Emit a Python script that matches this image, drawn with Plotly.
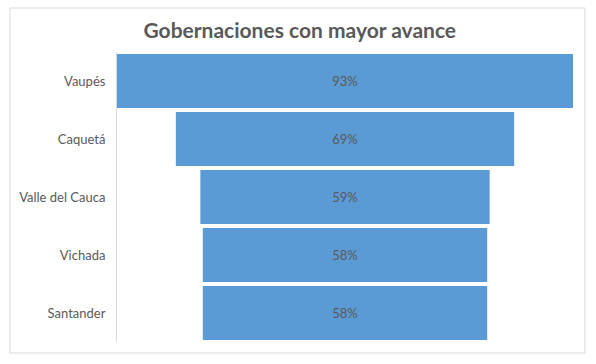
import plotly.graph_objects as go

categories = ["Vaupés", "Caquetá", "Valle del Cauca", "Vichada", "Santander"]
values = [93, 69, 59, 58, 58]
labels = ["93%", "69%", "59%", "58%", "58%"]

W, H = 596, 364
L, R, T, B = 117, 23, 52, 22
pw, ph = W - L - R, H - T - B

def px_to_paper_x(px):
    return (px - L) / pw

def py_to_paper_y(py):
    return (H - B - py) / ph

fig = go.Figure(go.Funnel(
    y=categories,
    x=values,
    text=labels,
    textinfo="text",
    textposition="inside",
    insidetextanchor="middle",
    textfont=dict(family="Lato", size=13, color="#595959"),
    marker=dict(color="#5B9BD5", line=dict(width=0)),
    connector=dict(visible=False),
    hoverinfo="y+x",
))

fig.update_layout(
    width=W, height=H,
    margin=dict(l=L, r=R, t=T, b=B),
    paper_bgcolor="white", plot_bgcolor="white",
    showlegend=False,
    funnelgap=0.07,
    title=dict(text="<b>Gobernaciones con mayor avance</b>", x=0.503, xanchor="center",
               y=1 - 31 / H, yanchor="middle",
               font=dict(family="Lato", size=21, color="#595959")),
    xaxis=dict(visible=False, range=[-46.5, 46.5], fixedrange=True),
    yaxis=dict(showline=True, linecolor="#d9d9d9", linewidth=1, ticks="",
               ticklabelstandoff=8, tickfont=dict(family="Lato", size=13, color="#595959"),
               showgrid=False, zeroline=False, automargin=False),
    shapes=[dict(type="rect", xref="paper", yref="paper",
                 x0=px_to_paper_x(10), x1=px_to_paper_x(585),
                 y0=py_to_paper_y(353), y1=py_to_paper_y(8),
                 line=dict(color="#d9d9d9", width=1), fillcolor="rgba(0,0,0,0)", layer="below")],
)

fig.write_html("out.html", config={"displayModeBar": False},
               post_script="document.body.style.margin='0';document.body.style.padding='0';")
